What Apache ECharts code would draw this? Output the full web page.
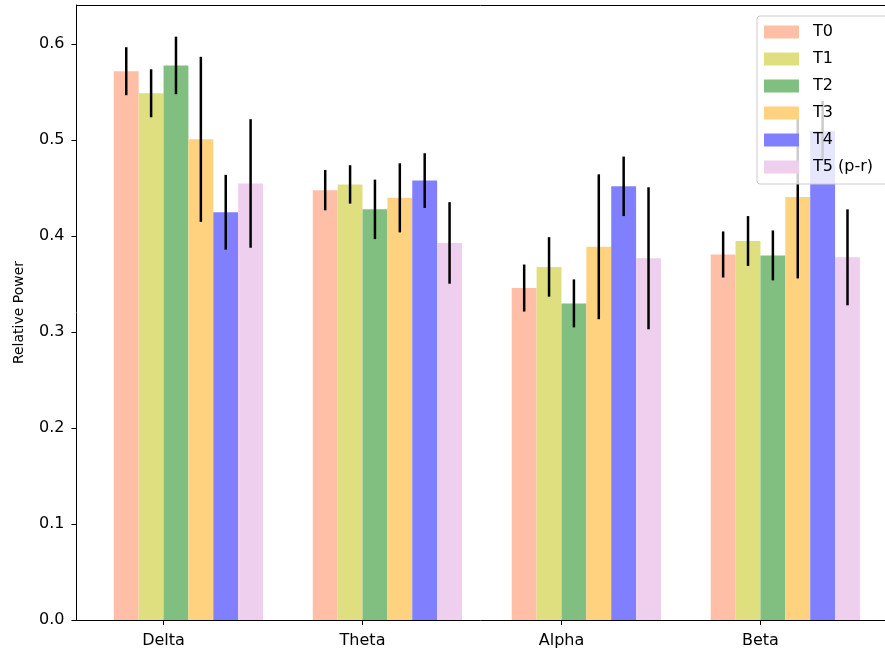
<!DOCTYPE html>
<html>
<head>
<meta charset="utf-8">
<script src="https://cdn.jsdelivr.net/npm/echarts@6/dist/echarts.min.js"></script>
<style>html,body{margin:0;padding:0;background:#fff;}#c{width:885px;height:653px;}</style>
</head>
<body>
<div id="c"></div>
<script>
var categories = ['Delta', 'Theta', 'Alpha', 'Beta'];
var seriesNames = ['T0', 'T1', 'T2', 'T3', 'T4', 'T5 (p-r)'];
var T0 = [0.572, 0.448, 0.346, 0.381];
var T1 = [0.549, 0.454, 0.368, 0.395];
var T2 = [0.578, 0.428, 0.330, 0.380];
var T3 = [0.501, 0.440, 0.389, 0.441];
var T4 = [0.425, 0.458, 0.452, 0.510];
var T5 = [0.455, 0.393, 0.377, 0.378];
var T0err = [0.025, 0.021, 0.0245, 0.024];
var T1err = [0.025, 0.020, 0.031, 0.026];
var T2err = [0.030, 0.031, 0.025, 0.026];
var T3err = [0.086, 0.036, 0.0755, 0.085];
var T4err = [0.039, 0.0285, 0.031, 0.031];
var T5err = [0.067, 0.0425, 0.074, 0.050];
var yTicks = [0, 0.1, 0.2, 0.3, 0.4, 0.5, 0.6];

var values = [T0, T1, T2, T3, T4, T5];
var errors = [T0err, T1err, T2err, T3err, T4err, T5err];
var colors = ['#ffbfa7', '#dfdf80', '#80bf80', '#ffd280', '#8080ff', '#eecfee'];
var BW = 0.125;
var FONT = 'DejaVu Sans';

var series = [];
seriesNames.forEach(function (name, i) {
  var data = categories.map(function (c, k) { return [k, values[i][k], errors[i][k]]; });
  series.push({
    type: 'custom',
    name: name,
    itemStyle: { color: colors[i] },
    z: 2,
    encode: { x: 0, y: 1 },
    data: data,
    renderItem: function (params, api) {
      var k = api.value(0), v = api.value(1);
      var left = k + (i - 2) * BW;
      var p0 = api.coord([left, v]);
      var p1 = api.coord([left + BW, 0]);
      return {
        type: 'rect',
        shape: { x: p0[0], y: p0[1], width: p1[0] - p0[0], height: p1[1] - p0[1] },
        style: { fill: colors[i] }
      };
    }
  });
});
seriesNames.forEach(function (name, i) {
  var data = categories.map(function (c, k) { return [k, values[i][k], errors[i][k]]; });
  series.push({
    type: 'custom',
    name: name + '_err',
    z: 3,
    silent: true,
    encode: { x: 0, y: 1 },
    data: data,
    renderItem: function (params, api) {
      var k = api.value(0), v = api.value(1), e = api.value(2);
      var cx = k + (i - 1.5) * BW;
      var a = api.coord([cx, v - e]);
      var b = api.coord([cx, v + e]);
      return {
        type: 'line',
        shape: { x1: a[0], y1: a[1], x2: b[0], y2: b[1] },
        style: { stroke: '#000', lineWidth: 2.5 }
      };
    }
  });
});

var chart = echarts.init(document.getElementById('c'), null, { renderer: 'canvas' });
chart.setOption({
  animation: false,
  backgroundColor: '#fff',
  grid: { left: 76.5, right: 0, top: 5, bottom: 33, containLabel: false },
  legend: {
    orient: 'vertical',
    left: 757, top: 16,
    padding: [8, 22, 9, 7],
    itemGap: 11, itemWidth: 35, itemHeight: 13,
    backgroundColor: 'rgba(255,255,255,0.8)',
    borderColor: '#cccccc', borderWidth: 1, borderRadius: 3,
    z: 10,
    data: seriesNames.map(function (n, i) { return { name: n, icon: 'rect', itemStyle: { color: colors[i] } }; }),
    textStyle: { fontFamily: FONT, fontSize: 16, color: '#000', padding: [0, 0, 0, 9] }
  },
  xAxis: [{
    type: 'value',
    min: -0.4375, max: 3.626,
    splitLine: { show: false },
    axisLine: { show: true, onZero: false, lineStyle: { color: '#000', width: 1 } },
    axisTick: { show: true, length: 5, customValues: [0, 1, 2, 3], lineStyle: { color: '#000' } },
    axisLabel: {
      customValues: [0, 1, 2, 3],
      margin: 13,
      fontFamily: FONT, fontSize: 16, color: '#000',
      formatter: function (v) { return categories[Math.round(v)]; }
    }
  }, {
    type: 'value', position: 'top',
    min: -0.4375, max: 3.626,
    splitLine: { show: false },
    axisLine: { show: true, onZero: false, lineStyle: { color: '#000', width: 1 } },
    axisTick: { show: false }, axisLabel: { show: false }
  }],
  yAxis: {
    type: 'value',
    min: 0, max: 0.641,
    splitLine: { show: false },
    axisLine: { show: true, onZero: false, lineStyle: { color: '#000', width: 1 } },
    axisTick: { show: true, length: 5, customValues: yTicks, lineStyle: { color: '#000' } },
    axisLabel: {
      customValues: yTicks,
      margin: 12,
      fontFamily: FONT, fontSize: 16, color: '#000',
      formatter: function (v) { return v.toFixed(1); }
    },
    name: 'Relative Power',
    nameLocation: 'middle',
    nameGap: 50,
    nameTextStyle: { fontFamily: FONT, fontSize: 14, color: '#000' }
  },
  series: series
});
</script>
</body>
</html>
